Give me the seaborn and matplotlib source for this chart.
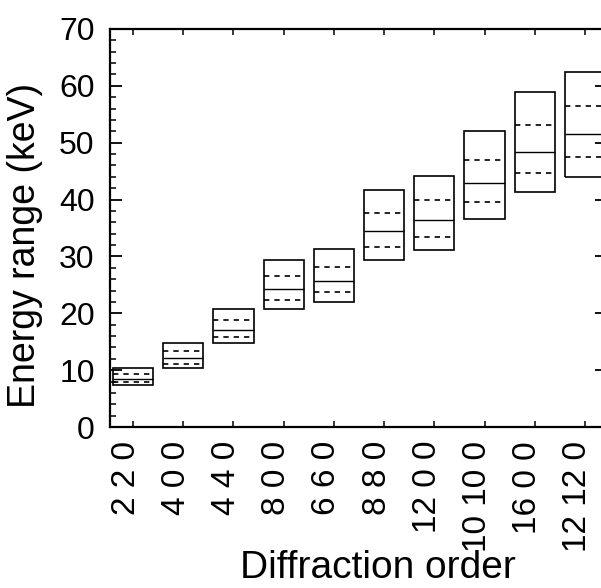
import numpy as np
import pandas as pd
import matplotlib
matplotlib.use('Agg')
import matplotlib.pyplot as plt
import matplotlib.transforms as mtransforms
from matplotlib.ticker import MultipleLocator
import seaborn as sns

orders = ['2 2 0', '4 0 0', '4 4 0', '8 0 0', '6 6 0',
          '8 8 0', '12 0 0', '10 10 0', '16 0 0', '12 12 0']
e_low = [7.3, 10.3, 14.7, 20.7, 21.9, 29.3, 31.1, 36.6, 41.4, 44.0]
e_high = [10.3, 14.7, 20.8, 29.4, 31.3, 41.7, 44.1, 52.1, 58.9, 62.5]
e_mid = [8.4, 12.1, 17.1, 24.2, 25.7, 34.5, 36.4, 42.9, 48.4, 51.5]
e_dash_hi = [9.3, 13.4, 18.8, 26.6, 28.2, 37.7, 39.9, 47.0, 53.2, 56.5]
e_dash_lo = [8.0, 11.1, 15.8, 22.3, 23.7, 31.6, 33.5, 39.6, 44.6, 47.5]


def main():
    sns.set_style('ticks')
    plt.rcParams['font.family'] = ['Liberation Sans', 'DejaVu Sans']
    for key in ['text.color', 'axes.labelcolor', 'xtick.color', 'ytick.color']:
        plt.rcParams[key] = 'black'

    df = pd.DataFrame({'order': orders, 'low': e_low, 'high': e_high})
    df['span'] = df['high'] - df['low']

    fig = plt.figure(figsize=(6.01, 5.88), dpi=100)
    ax = fig.add_axes([0.183, 0.2738, 0.827, 0.6769])

    sns.barplot(data=df, x='order', y='span', bottom=df['low'].values,
                fill=False, color='black', linewidth=1.2, width=0.8,
                errorbar=None, ax=ax)

    xs = np.arange(len(orders))
    ax.hlines(e_mid, xs - 0.4, xs + 0.4, color='black', lw=1.0)
    # dashed lines inside each box
    ax.hlines(e_dash_hi, xs - 0.4, xs + 0.4, color='black', lw=1.2,
              linestyles=(0, (3.2, 3)))
    ax.hlines(e_dash_lo, xs - 0.4, xs + 0.4, color='black', lw=1.2,
              linestyles=(0, (3.2, 3)))

    ax.set_xlim(-0.46, 9.44)
    ax.set_ylim(0, 70)
    ax.yaxis.set_major_locator(MultipleLocator(10))
    ax.yaxis.set_minor_locator(MultipleLocator(2))

    for s in ax.spines.values():
        s.set_visible(True)
        s.set_linewidth(1.6)
        s.set_color('black')

    ax.tick_params(axis='y', which='major', direction='in', length=8.5,
                   width=1.3, left=True, right=True, labelsize=23, pad=11)
    ax.tick_params(axis='y', which='minor', direction='in', length=4.3,
                   width=1.1, left=True, right=True)
    ax.tick_params(axis='x', which='major', direction='in', length=4.5,
                   width=1.1, bottom=True, top=True, labelsize=24, pad=10)

    ax.set_xticks(xs)
    ax.set_xticklabels(orders, rotation=90, va='top', ha='center')
    shift = mtransforms.ScaledTranslation(-7 / 100, 0, fig.dpi_scale_trans)
    for lab in ax.get_xticklabels():
        lab.set_transform(lab.get_transform() + shift)

    ax.set_xlabel('Diffraction order', fontsize=28)
    ax.set_ylabel('Energy range (keV)', fontsize=27)
    ax.xaxis.set_label_coords(0.54, -0.31)
    ax.yaxis.set_label_coords(-0.135, 0.455)

    fig.savefig('out.png', dpi=100)
    plt.close(fig)


if __name__ == '__main__':
    main()
